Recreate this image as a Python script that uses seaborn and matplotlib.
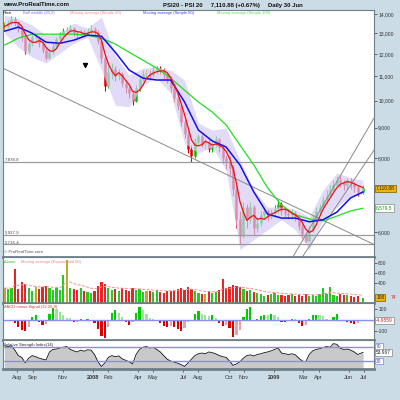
import numpy as np
import pandas as pd
import matplotlib
matplotlib.use("Agg")
import matplotlib.pyplot as plt
import matplotlib.dates as mdates
from matplotlib.ticker import FixedLocator, FuncFormatter, NullLocator
import seaborn as sns

# ---------------- data (weekly readings of the daily chart) ----------------
dates = list(pd.date_range("2007-07-06", periods=104, freq="7D"))
dates[-1] = pd.Timestamp("2009-06-30")
dates = pd.DatetimeIndex(dates)

closes = [
    13350, 13550, 13750, 13600, 13300,
    12800, 12150, 12500, 12800, 12750,
    12500, 12200, 11800, 12100, 12400,
    12700, 12900, 13100, 13150, 13300,
    13000, 12900, 13050, 12950, 13100,
    13200, 13050, 12600, 11800, 10600,
    11200, 11300, 11000, 11100, 10700,
    10500, 10300, 10000, 10500, 10900,
    11100, 11150, 11050, 11250, 11350,
    11250, 11100, 10900, 10500, 10100,
    9800, 9200, 8800, 8300, 8050,
    8500, 8700, 8450, 8500, 8300,
    8400, 8600, 8350, 8000, 7900,
    7700, 7100, 6300, 5900, 6600,
    6300, 6600, 6100, 6200, 6400,
    6500, 6350, 6450, 6550, 6700,
    6500, 6450, 6400, 6450, 6350,
    6150, 5950, 5800, 6050, 6300,
    6500, 6600, 6800, 6900, 7050,
    7200, 7350, 7300, 7200, 7350,
    7250, 7150, 7000, 7110.88,
]

lows = [
    13150, 13250, 13450, 13400, 13050,
    12600, 12000, 12050, 12400, 12550,
    12350, 12050, 11700, 11750, 12000,
    12300, 12600, 12800, 12950, 13000,
    12850, 12750, 12800, 12800, 12850,
    12950, 12900, 12450, 11600, 10400,
    10500, 10900, 10800, 10850, 10550,
    10300, 10100, 9850, 9950, 10400,
    10800, 10950, 10900, 10950, 11100,
    11100, 10900, 10700, 10350, 9950,
    9650, 9050, 8650, 8150, 7880,
    8000, 8400, 8350, 8300, 8200,
    8200, 8350, 8200, 7850, 7650,
    7500, 6900, 6100, 5720, 5850,
    6100, 6200, 5930, 6000, 6150,
    6300, 6250, 6300, 6350, 6450,
    6400, 6350, 6300, 6300, 6250,
    6050, 5850, 5760, 5780, 6000,
    6250, 6400, 6550, 6700, 6850,
    7000, 7150, 7150, 7050, 7100,
    7100, 7000, 6900, 6950,
]

highs = [
    13600, 13700, 13900, 13850, 13650,
    13350, 12900, 12650, 12950, 12950,
    12850, 12600, 12300, 12250, 12550,
    12800, 13050, 13250, 13350, 13450,
    13350, 13100, 13200, 13150, 13250,
    13450, 13350, 13150, 12700, 11900,
    11500, 11600, 11450, 11300, 11200,
    10850, 10650, 10400, 10650, 11000,
    11250, 11300, 11250, 11400, 11450,
    11450, 11350, 11200, 11000, 10600,
    10200, 9900, 9300, 8900, 8400,
    8650, 8800, 8800, 8650, 8600,
    8550, 8700, 8650, 8450, 8100,
    8050, 7800, 7200, 6500, 6750,
    6700, 6750, 6650, 6350, 6500,
    6600, 6550, 6550, 6650, 6800,
    6750, 6600, 6550, 6550, 6500,
    6400, 6200, 6000, 6150, 6400,
    6600, 6700, 6900, 7050, 7200,
    7350, 7450, 7450, 7350, 7400,
    7400, 7300, 7200, 7200,
]

volume = [
    300, 280, 300, 680, 280,
    420, 380, 300, 250, 320,
    280, 330, 350, 300, 270,
    310, 260, 560, 860, 300,
    280, 260, 300, 250, 230,
    200, 240, 350, 420, 380,
    300, 260, 280, 250, 300,
    270, 240, 310, 260, 280,
    230, 250, 240, 220, 260,
    230, 200, 250, 240, 260,
    280, 300, 260, 330, 280,
    240, 200, 190, 180, 220,
    210, 230, 260, 480, 300,
    320, 360, 350, 330, 280,
    250, 270, 220, 200, 180,
    150, 160, 180, 200, 170,
    160, 150, 170, 180, 150,
    160, 140, 180, 150, 160,
    140, 180, 300, 190, 320,
    170, 150, 190, 160, 170,
    150, 130, 140, 108.74,
]

macd_hist = [
    -5, -5, -10, -30, -60,
    -85, -100, -60, 30, 40,
    -20, -40, -35, 50, 105,
    100, 70, 40, 20, 15,
    -20, -15, 5, -5, 5,
    -5, -30, -80, -140, -160,
    -60, 60, 90, 60, 30,
    -20, -40, -20, 60, 110,
    90, 50, 20, 5, -5,
    -30, -50, -60, -55, -60,
    -80, -100, -70, -20, -10,
    50, 80, 50, 40, 35,
    40, 20, -30, -50, -40,
    -70, -150, -130, -90, 30,
    100, 110, -10, 10, 35,
    45, 40, 50, 45, 30,
    -15, -20, -5, 10, 5,
    -30, -50, -40, 10, 40,
    45, 40, 35, 10, -5,
    30, 50, -5, -10, -20,
    -30, -35, -30, -4.9559,
]

rsi = [
    72, 70, 72, 60, 45,
    40, 25, 38, 45, 42,
    38, 35, 33, 55, 62,
    63, 66, 68, 70, 62,
    58, 55, 60, 57, 61,
    60, 48, 28, 15, 25,
    40, 45, 42, 44, 36,
    32, 28, 22, 48, 62,
    68, 70, 66, 68, 62,
    55, 45, 35, 30, 27,
    24, 20, 15, 25, 35,
    45, 50, 52, 50, 55,
    53, 50, 45, 42, 40,
    30, 18, 22, 28, 38,
    45, 47, 44, 48, 50,
    53, 55, 58, 62, 66,
    52, 50, 48, 50, 47,
    38, 30, 28, 48, 58,
    62, 64, 67, 70, 68,
    78, 76, 65, 62, 63,
    60, 55, 48, 53.967,
]

# indicator lines read every four weeks
sample_dates = dates[::4].append(dates[-1:])
ma50 = [13110, 13320, 13010, 12560, 12510, 12660, 12910, 12860, 12080, 11270,
        10920, 10840, 10840, 9950, 8920, 8550, 8350, 7785, 7010, 6430,
        6330, 6330, 6240, 6290, 6480, 6850, 7010]
ma100 = [12420, 12760, 12960, 12960, 12960, 12960, 12910, 12760, 12470, 12080,
         11710, 11350, 10920, 10420, 9950, 9570, 9100, 8415, 7785, 7120,
         6660, 6410, 6310, 6260, 6380, 6510, 6579.5]
band_up = [13950, 13790, 13420, 12910, 13010, 13530, 13270, 13850, 11940, 11050,
           11350, 11400, 11270, 10840, 9170, 8920, 8990, 7940, 7060, 6610,
           6610, 6540, 6360, 7060, 7550, 7400, 7340]
band_lo = [13010, 12320, 11850, 11580, 12040, 12515, 12810, 11270, 9830, 9760,
           10630, 10920, 10300, 8480, 8160, 8350, 7630, 5600, 5820, 6050,
           6290, 6050, 5600, 6290, 6610, 6870, 6980]

levels = [7878.9, 5927.9, 5716.4]
trend_lines = [
    (("2007-07-03", 11350), ("2009-07-22", 5712)),
    (("2009-02-08", 5440), ("2009-07-22", 9347)),
    (("2009-02-27", 5440), ("2009-07-22", 8250)),
]
marker_point = ("2007-12-16", 11480)

month_ticks = ["2007-08-01", "2007-09-01", "2007-11-01", "2008-01-01", "2008-02-01",
               "2008-04-01", "2008-05-01", "2008-07-01", "2008-08-01", "2008-10-01",
               "2008-11-01", "2009-01-01", "2009-03-01", "2009-04-01", "2009-06-01",
               "2009-07-01"]
month_labels = ["Aug", "Sep", "Nov", "2008", "Feb", "Apr", "May", "Jul", "Aug",
                "Oct", "Nov", "2009", "Mar", "Apr", "Jun", "Jul"]

# ---------------- style ----------------
sns.set_style("white")
plt.rcParams["font.family"] = ["Liberation Sans", "DejaVu Sans"]
BG = "#ccdce6"
SPINE = "#6f7f88"

df = pd.DataFrame({"date": dates, "close": closes, "high": highs, "low": lows,
                   "volume": volume, "macd": macd_hist, "rsi": rsi})
df["open"] = df["close"].shift(1).fillna(df["close"])
df["ma20"] = df["close"].rolling(4, min_periods=1).mean()
df["vol_ema"] = df["volume"].ewm(span=10, adjust=False).mean()
chg = (df["close"] - df["open"]) / df["open"]
cand_col = np.where(chg.abs() < 0.006, "#a8a000", np.where(chg >= 0, "#00c000", "#e00000"))

sd = pd.DataFrame({"date": sample_dates, "ma50": ma50, "ma100": ma100,
                   "up": band_up, "lo": band_lo})

fig = plt.figure(figsize=(4, 4), dpi=100)
fig.patch.set_facecolor(BG)
L, W = 3 / 400, 371 / 400
ax_p = fig.add_axes([L, 1 - 257 / 400, W, 247 / 400])
ax_v = fig.add_axes([L, 1 - 303 / 400, W, 46 / 400], sharex=ax_p)
ax_m = fig.add_axes([L, 1 - 340 / 400, W, 37 / 400], sharex=ax_p)
ax_r = fig.add_axes([L, 1 - 369 / 400, W, 29 / 400], sharex=ax_p)

xlim = (pd.Timestamp("2007-07-03"), pd.Timestamp("2009-07-22"))

for ax in (ax_p, ax_v, ax_m, ax_r):
    ax.set_facecolor("white")
    for s in ax.spines.values():
        s.set_color(SPINE)
        s.set_linewidth(0.8)
    ax.spines["bottom"].set_linewidth(2.0)
    ax.tick_params(axis="y", which="both", left=False, right=True, labelleft=False,
                   labelright=True, length=2, width=0.5, pad=1, labelsize=3.6,
                   colors="#333333")
    ax.tick_params(axis="x", which="both", bottom=False, labelbottom=False)

# ---------------- price panel ----------------
ax = ax_p
ax.set_yscale("log")
ax.vlines(df["date"], df["low"], df["high"], colors=cand_col, linewidth=0.8, zorder=1)
ax.vlines(df["date"], df[["open", "close"]].min(axis=1), df[["open", "close"]].max(axis=1),
          colors=cand_col, linewidth=1.8, zorder=1)
ax.fill_between(sd["date"], sd["lo"], sd["up"], color="#d6ccf6", alpha=0.7, lw=0, zorder=2)
for lv in levels:
    ax.axhline(lv, color="#9a9a9a", lw=0.9, zorder=2.5)
for (d0, v0), (d1, v1) in trend_lines:
    ax.plot([pd.Timestamp(d0), pd.Timestamp(d1)], [v0, v1], color="#8a8a8a", lw=0.7, zorder=2.5)
sns.lineplot(data=sd, x="date", y="ma100", ax=ax, color="#22dd22", lw=0.9, zorder=3)
sns.lineplot(data=sd, x="date", y="ma50", ax=ax, color="#1010ee", lw=1.1, zorder=3)
sns.lineplot(data=df, x="date", y="ma20", ax=ax, color="#ee1010", lw=0.9, zorder=3.5)
ax.scatter([pd.Timestamp(marker_point[0])], [marker_point[1]], marker="v", s=8,
           color="black", zorder=4)
ax.set_ylim(5440, 14240)
ax.set_xlim(*xlim)
ax.yaxis.set_major_locator(FixedLocator([6000, 8000, 9000, 10000, 11000, 12000, 13000, 14000]))
ax.yaxis.set_minor_locator(NullLocator())
ax.yaxis.set_major_formatter(FuncFormatter(lambda v, p: f"{v:,.0f}"))
ax.set_xlabel("")
ax.set_ylabel("")
for lv in levels:
    ax.text(0.004, lv, f"{lv:,.1f}", transform=ax.get_yaxis_transform(), fontsize=3.2,
            color="#444444", va="bottom", ha="left", zorder=5)
ax.text(0.004, 0.012, "© ProRealTime.com", transform=ax.transAxes, fontsize=3.2,
        color="#555555", va="bottom", ha="left")
ax.text(1.006, closes[-1], f"{closes[-1]:,.2f}", transform=ax.get_yaxis_transform(),
        fontsize=3.5, va="center", ha="left", color="#222222",
        bbox=dict(boxstyle="square,pad=0.25", fc="#f2b400", ec="#7a5a00", lw=0.5))
ax.text(1.006, ma100[-1], f"{ma100[-1]:,.1f}", transform=ax.get_yaxis_transform(),
        fontsize=3.5, va="center", ha="left", color="#00aa00",
        bbox=dict(boxstyle="square,pad=0.25", fc="white", ec="#888888", lw=0.5))

# legend row
y_leg = 1 - 13 / 400
for xpix, txt, col in [(3, "Price", "#111111"), (23, "Boll middle (20,2)", "#7a6cf0"),
                       (70, "Moving average (Simple 20)", "#f08a8a"),
                       (143, "Moving average (Simple 50)", "#3a3af5"),
                       (217, "Moving average (Simple 100)", "#55dd55")]:
    fig.text(xpix / 400, y_leg, txt, fontsize=3.0, color=col, va="center", ha="left")

# header
fig.text(3 / 400, 1 - 5 / 400, "www.ProRealTime.com", fontsize=4.3, fontweight="bold",
         va="center", ha="left", color="#111111")
fig.text(163 / 400, 1 - 5 / 400, "PSI20 - PSI 20     7,110.88 (+0.67%)     Daily 30 Jun",
         fontsize=4.3, fontweight="bold", va="center", ha="left", color="#111111")

# ---------------- volume panel ----------------
ax = ax_v
ax.bar(df["date"], df["volume"], width=4.5, color=cand_col, alpha=0.85, lw=0, zorder=1)
sns.lineplot(data=df, x="date", y="vol_ema", ax=ax, color="#f09090", lw=0.7, zorder=2)
ax.lines[-1].set_linestyle((0, (3, 1.5)))
ax.set_ylim(0, 920)
ax.yaxis.set_major_locator(FixedLocator([400, 600, 800]))
ax.set_xlabel("")
ax.set_ylabel("")
fig.text(3 / 400, 1 - 262 / 400, "Volume", fontsize=3.0, color="#33bb33", va="center")
fig.text(21 / 400, 1 - 262 / 400, "Moving average (Exponential 50)", fontsize=3.0,
         color="#f08080", va="center")
ax.text(1.006, volume[-1], "108", transform=ax.get_yaxis_transform(), fontsize=3.5,
        va="center", ha="left", color="#222222",
        bbox=dict(boxstyle="square,pad=0.2", fc="#f2b400", ec="#7a5a00", lw=0.5))
ax.text(1.045, volume[-1], "74", transform=ax.get_yaxis_transform(), fontsize=3.5,
        va="center", ha="left", color="#dd2222")

# ---------------- MACD panel ----------------
ax = ax_m
mh = df["macd"]
prev = mh.shift(1).fillna(0)
mcol = np.where(mh >= 0, np.where(mh >= prev, "#00cc00", "#99e699"),
                np.where(mh <= prev, "#dd0000", "#f0a0a0"))
ax.bar(df["date"], mh, width=4.5, color=mcol, lw=0, zorder=1)
ax.axhline(0, color="#8c8cf5", lw=1.0, zorder=2)
ax.set_ylim(-174, 148)
ax.yaxis.set_major_locator(FixedLocator([-100, 100]))
ax.yaxis.set_major_formatter(FuncFormatter(lambda v, p: f"{v:.0f}"))
fig.text(3 / 400, 1 - 307 / 400, "MACD minus Signal (12,26,9)", fontsize=3.0,
         color="#dd3333", va="center")
ax.text(1.006, macd_hist[-1], f"{macd_hist[-1]:.4f}", transform=ax.get_yaxis_transform(),
        fontsize=3.5, va="center", ha="left", color="#cc2222",
        bbox=dict(boxstyle="square,pad=0.2", fc="white", ec="#888888", lw=0.5))

# ---------------- RSI panel ----------------
ax = ax_r
ax.fill_between(df["date"], 8, df["rsi"], color="#c9c9c9", lw=0, zorder=1)
sns.lineplot(data=df, x="date", y="rsi", ax=ax, color="#111111", lw=0.6, zorder=2)
for lv in (70, 30):
    ax.axhline(lv, color="#8c8cf0", lw=1.0, zorder=3)
    ax.text(1.006, lv, f"{lv}", transform=ax.get_yaxis_transform(), fontsize=3.5,
            va="center", ha="left", color="#4040cc",
            bbox=dict(boxstyle="square,pad=0.2", fc="white", ec="#8080dd", lw=0.5))
ax.text(1.006, rsi[-1], f"{rsi[-1]:.3f}", transform=ax.get_yaxis_transform(), fontsize=3.5,
        va="center", ha="left", color="#222222",
        bbox=dict(boxstyle="square,pad=0.2", fc="white", ec="#888888", lw=0.5))
ax.set_ylim(8, 88)
ax.yaxis.set_major_locator(NullLocator())
ax.set_xlabel("")
ax.set_ylabel("")
fig.text(3 / 400, 1 - 345 / 400, "Relative Strength Index(14)", fontsize=3.0,
         color="#222222", va="center")

ax.set_xticks([mdates.date2num(pd.Timestamp(d)) for d in month_ticks])
ax.set_xticklabels(month_labels)
ax.tick_params(axis="x", bottom=True, labelbottom=True, length=2, width=0.5, pad=2,
               labelsize=4.0, colors="#333333")
for lab in ax.get_xticklabels():
    if lab.get_text() in ("2008", "2009"):
        lab.set_fontweight("bold")
ax.set_xlim(*xlim)

fig.savefig("out.png", dpi=100, facecolor=BG)
